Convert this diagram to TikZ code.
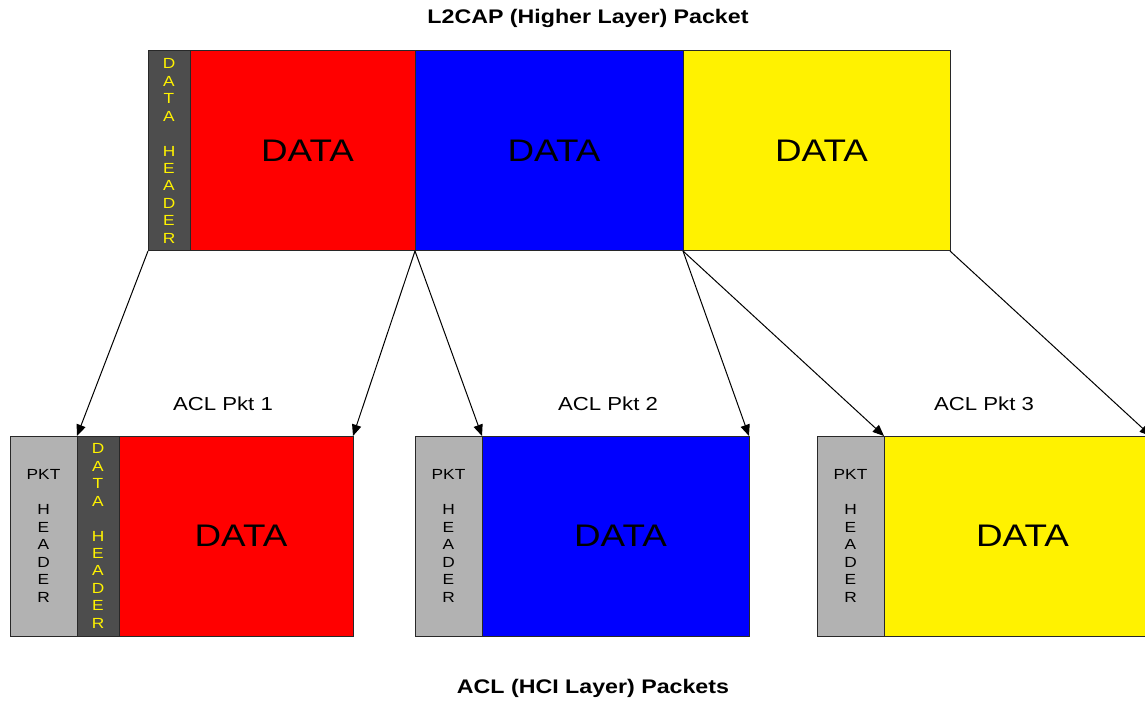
\documentclass[tikz,border=0pt]{standalone}
\usepackage{fontspec}
\setmainfont{Liberation Sans}[FakeStretch=1.18]
\usetikzlibrary{arrows.meta}

\definecolor{hdrdark}{RGB}{77,77,77}
\definecolor{hdrlight}{RGB}{178,178,178}
\definecolor{edge}{RGB}{40,40,40}

\begin{document}
\begin{tikzpicture}[x=0.75pt,y=-0.75pt,
  field/.style={draw=edge, line width=0.75pt, inner sep=0pt, outer sep=0pt,
    anchor=north west, minimum height=150pt},
  datahdr/.style={field, fill=hdrdark, minimum width={42*0.75pt}, text=yellow,
    align=center, font=\fontsize{11}{13.1}\selectfont},
  pkthdr/.style={field, fill=hdrlight, minimum width={67*0.75pt}, text=black,
    align=center, font=\fontsize{11}{13.1}\selectfont},
  payload/.style={field, minimum width={#1*0.75pt}},
  datatxt/.style={font=\fontsize{23.4}{28}\selectfont},
  pktlabel/.style={font=\fontsize{14.1}{16}\selectfont},
  title/.style={font=\bfseries\fontsize{14.75}{17}\selectfont},
  arr/.style={line width=0.75pt, -{Triangle[length=8.5pt,width=7pt]}}]
\useasboundingbox (0,0) rectangle (1145,702);

% higher layer packet
\node[title] (toptitle) at (588,18) {L2CAP (Higher Layer) Packet};
\node[datahdr] (h0) at (148,51) {D\\A\\T\\A\\[13.1pt]H\\E\\A\\D\\E\\R};
\node[payload=225, fill=red] (r0) at (190,51) {};
\node[payload=268, fill=blue] (b0) at (415,51) {};
\node[payload=267, fill=yellow] (y0) at (683,51) {};
\node[datatxt] (t0r) at ([xshift=3.75pt]r0.center) {DATA};
\node[datatxt] (t0b) at ([xshift=3.75pt]b0.center) {DATA};
\node[datatxt] (t0y) at ([xshift=3.75pt]y0.center) {DATA};

% ACL packet 1
\node[pktlabel] (l1) at (223,404) {ACL Pkt 1};
\node[pkthdr] (p1) at (10,436) {PKT\\[13.1pt]H\\E\\A\\D\\E\\R};
\node[datahdr] (h1) at (77,436) {D\\A\\T\\A\\[13.1pt]H\\E\\A\\D\\E\\R};
\node[payload=234, fill=red] (r1) at (119,436) {};
\node[datatxt] (t1) at ([xshift=3.75pt]r1.center) {DATA};

% ACL packet 2
\node[pktlabel] (l2) at (608,404) {ACL Pkt 2};
\node[pkthdr] (p2) at (415,436) {PKT\\[13.1pt]H\\E\\A\\D\\E\\R};
\node[payload=267, fill=blue] (b2) at (482,436) {};
\node[datatxt] (t2) at ([xshift=3.75pt]b2.center) {DATA};

% ACL packet 3
\node[pktlabel] (l3) at (984,404) {ACL Pkt 3};
\node[pkthdr] (p3) at (817,436) {PKT\\[13.1pt]H\\E\\A\\D\\E\\R};
\node[payload=267, fill=yellow] (y3) at (884,436) {};
\node[datatxt] (t3) at ([xshift=3.75pt]y3.center) {DATA};

\node[title] (bottitle) at (593,688) {ACL (HCI Layer) Packets};

% segmentation arrows
\draw[arr] (h0.south west) -- (h1.north west);
\draw[arr] (r0.south east) -- (r1.north east);
\draw[arr] (r0.south east) -- (b2.north west);
\draw[arr] (b0.south east) -- (b2.north east);
\draw[arr] (b0.south east) -- (y3.north west);
\draw[arr] (y0.south east) -- (y3.north east);
\end{tikzpicture}
\end{document}
